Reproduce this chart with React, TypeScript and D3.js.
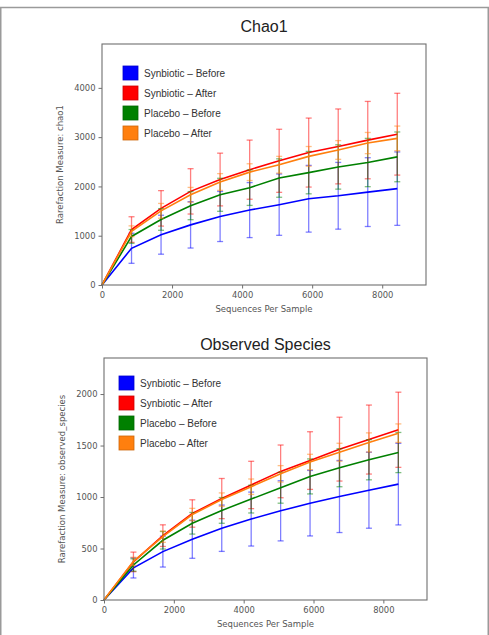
import React, { useEffect, useRef } from "react";
import * as d3 from "d3";

// rarefaction depths (sequences per sample)
const depths = [0, 843, 1686, 2529, 3372, 4215, 5058, 5901, 6744, 7587, 8430];

const groupNames = ["Synbiotic – Before", "Synbiotic – After", "Placebo – Before", "Placebo – After"];
const groupColors = ["#0000ff", "#ff0000", "#008000", "#ff7f0e"];

// chao1 means and standard deviations
const chao1SynBefore = [0, 745, 1020, 1220, 1390, 1520, 1630, 1750, 1810, 1885, 1955];
const chao1SynBeforeSd = [0, 305, 395, 470, 508, 558, 622, 677, 677, 698, 745];
const chao1SynAfter = [0, 1125, 1555, 1900, 2140, 2340, 2520, 2687, 2812, 2940, 3060];
const chao1SynAfterSd = [0, 260, 360, 460, 535, 600, 640, 700, 760, 785, 830];
const chao1PlaBefore = [0, 985, 1330, 1610, 1830, 1975, 2170, 2280, 2395, 2485, 2600];
const chao1PlaBeforeSd = [0, 140, 220, 285, 335, 360, 390, 430, 450, 490, 505];
const chao1PlaAfter = [0, 1090, 1505, 1830, 2090, 2290, 2440, 2610, 2740, 2880, 2975];
const chao1PlaAfterSd = [0, 110, 150, 150, 170, 170, 170, 200, 190, 215, 250];

// observed species means and standard deviations
const obsSynBefore = [0, 312, 470, 590, 697, 786, 866, 940, 1005, 1066, 1125];
const obsSynBeforeSd = [0, 98, 150, 185, 225, 262, 292, 318, 350, 369, 396];
const obsSynAfter = [0, 370, 625, 840, 985, 1117, 1249, 1354, 1465, 1558, 1653];
const obsSynAfterSd = [0, 95, 105, 133, 195, 230, 256, 280, 310, 335, 365];
const obsPlaBefore = [0, 340, 580, 745, 870, 980, 1090, 1200, 1285, 1362, 1432];
const obsPlaBeforeSd = [0, 60, 85, 105, 125, 135, 150, 170, 185, 195, 195];
const obsPlaAfter = [0, 375, 615, 830, 975, 1100, 1225, 1340, 1435, 1530, 1620];
const obsPlaAfterSd = [0, 40, 55, 60, 65, 75, 80, 75, 87, 93, 90];

const xTicks = [0, 2000, 4000, 6000, 8000];
const chao1Ticks = [0, 1000, 2000, 3000, 4000];
const obsTicks = [0, 500, 1000, 1500, 2000];

interface PanelSpec {
  title: string;
  yLabel: string;
  means: number[][];
  sds: number[][];
  yTicks: number[];
  yMax: number;
  box: { left: number; right: number; top: number; bottom: number };
  titleY: number;
  legend: { x: number; y: number };
}

const panels: PanelSpec[] = [
  {
    title: "Chao1",
    yLabel: "Rarefaction Measure: chao1",
    means: [chao1SynBefore, chao1SynAfter, chao1PlaBefore, chao1PlaAfter],
    sds: [chao1SynBeforeSd, chao1SynAfterSd, chao1PlaBeforeSd, chao1PlaAfterSd],
    yTicks: chao1Ticks,
    yMax: 4890,
    box: { left: 102, right: 426, top: 44, bottom: 285 },
    titleY: 32,
    legend: { x: 123, y: 73 },
  },
  {
    title: "Observed Species",
    yLabel: "Rarefaction Measure: observed_species",
    means: [obsSynBefore, obsSynAfter, obsPlaBefore, obsPlaAfter],
    sds: [obsSynBeforeSd, obsSynAfterSd, obsPlaBeforeSd, obsPlaAfterSd],
    yTicks: obsTicks,
    yMax: 2350,
    box: { left: 104, right: 427, top: 358, bottom: 600 },
    titleY: 350,
    legend: { x: 119, y: 383 },
  },
];

const W = 489;
const H = 635;

export default function App() {
  const svgRef = useRef<SVGSVGElement | null>(null);

  useEffect(() => {
    if (!svgRef.current) return;
    const svg = d3.select(svgRef.current);
    svg.selectAll("*").remove();

    svg.append("rect").attr("width", W).attr("height", H).attr("fill", "#fff");

    // outer figure border
    svg
      .append("rect")
      .attr("x", 0.75)
      .attr("y", 7.5)
      .attr("width", W - 1.5)
      .attr("height", H)
      .attr("fill", "none")
      .attr("stroke", "#9a9a9a")
      .attr("stroke-width", 1.5);

    panels.forEach((p) => {
      const { left, right, top, bottom } = p.box;
      const x = d3.scaleLinear().domain([0, 9250]).range([left, right]);
      const y = d3.scaleLinear().domain([0, p.yMax]).range([bottom, top]);
      const g = svg.append("g");

      g.append("text")
        .attr("x", (left + right) / 2)
        .attr("y", p.titleY)
        .attr("text-anchor", "middle")
        .attr("font-family", "Liberation Sans, Arial, sans-serif")
        .attr("font-size", 16)
        .attr("fill", "#222")
        .text(p.title);

      // series: error bars first, then line
      p.means.forEach((vals, i) => {
        const color = groupColors[i];
        const sd = p.sds[i];
        const eb = g.append("g").attr("stroke", color).attr("stroke-opacity", 0.5).attr("stroke-width", 1.3);
        depths.forEach((d, j) => {
          if (sd[j] === 0) return;
          const cx = x(d);
          const y0 = y(vals[j] - sd[j]);
          const y1 = y(vals[j] + sd[j]);
          eb.append("line").attr("x1", cx).attr("x2", cx).attr("y1", y0).attr("y2", y1);
          eb.append("line").attr("x1", cx - 3).attr("x2", cx + 3).attr("y1", y0).attr("y2", y0);
          eb.append("line").attr("x1", cx - 3).attr("x2", cx + 3).attr("y1", y1).attr("y2", y1);
        });
        const line = d3
          .line<number>()
          .x((_, j) => x(depths[j]))
          .y((v) => y(v));
        g.append("path")
          .datum(vals)
          .attr("fill", "none")
          .attr("stroke", color)
          .attr("stroke-width", 1.6)
          .attr("d", line);
      });

      // frame
      g.append("rect")
        .attr("x", left)
        .attr("y", top)
        .attr("width", right - left)
        .attr("height", bottom - top)
        .attr("fill", "none")
        .attr("stroke", "#6f6f6f")
        .attr("stroke-width", 1.1);

      const xAxis = g
        .append("g")
        .attr("transform", `translate(0,${bottom})`)
        .call(d3.axisBottom(x).tickValues(xTicks).tickSize(3.5).tickPadding(4).tickFormat(d3.format("d")));
      const yAxis = g
        .append("g")
        .attr("transform", `translate(${left},0)`)
        .call(d3.axisLeft(y).tickValues(p.yTicks).tickSize(3.5).tickPadding(3).tickFormat(d3.format("d")));
      [xAxis, yAxis].forEach((a) => {
        a.select(".domain").remove();
        a.selectAll("line").attr("stroke", "#6f6f6f");
        a.selectAll("text")
          .attr("fill", "#555")
          .attr("font-size", 8.4)
          .attr("font-family", "DejaVu Sans, sans-serif");
      });

      g.append("text")
        .attr("x", (left + right) / 2)
        .attr("y", bottom + 27)
        .attr("text-anchor", "middle")
        .attr("font-family", "DejaVu Sans, sans-serif")
        .attr("font-size", 8.5)
        .attr("fill", "#555")
        .text("Sequences Per Sample");

      g.append("text")
        .attr("transform", `translate(${left - 39},${(top + bottom) / 2}) rotate(-90)`)
        .attr("text-anchor", "middle")
        .attr("font-family", "DejaVu Sans, sans-serif")
        .attr("font-size", 8.5)
        .attr("fill", "#555")
        .text(p.yLabel);

      // legend
      groupNames.forEach((name, i) => {
        const ly = p.legend.y + i * 20;
        g.append("rect")
          .attr("x", p.legend.x)
          .attr("y", ly - 7)
          .attr("width", 15)
          .attr("height", 14)
          .attr("fill", groupColors[i])
          .attr("stroke", d3.color(groupColors[i])!.darker(0.6).toString())
          .attr("stroke-width", 0.8);
        g.append("text")
          .attr("x", p.legend.x + 21)
          .attr("y", ly + 3.5)
          .attr("font-family", "Liberation Sans, Arial, sans-serif")
          .attr("font-size", 10)
          .attr("fill", "#333")
          .text(name);
      });
    });
  }, []);

  return (
    <svg
      ref={svgRef}
      width={W}
      height={H}
      style={{ position: "absolute", left: 0, top: 0, display: "block" }}
    />
  );
}
